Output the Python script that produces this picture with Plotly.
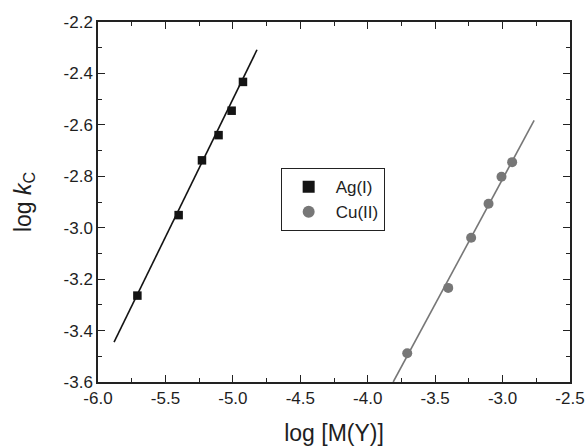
import plotly.graph_objects as go

# Data
ag_x = [-5.708, -5.402, -5.229, -5.106, -5.009, -4.925]
ag_y = [-3.264, -2.951, -2.738, -2.640, -2.545, -2.433]
cu_x = [-3.707, -3.403, -3.233, -3.104, -3.008, -2.929]
cu_y = [-3.488, -3.234, -3.039, -2.907, -2.802, -2.745]
ag_fit_x = [-5.881, -4.821]
ag_fit_y = [-3.445, -2.308]
cu_fit_x = [-3.811, -2.766]
cu_fit_y = [-3.600, -2.583]

x_ticks = [-6.0, -5.5, -5.0, -4.5, -4.0, -3.5, -3.0, -2.5]
y_ticks = [-3.6, -3.4, -3.2, -3.0, -2.8, -2.6, -2.4, -2.2]

AG = "#141414"
CU = "#777777"
AX = "#222222"
TXT = "#1e1e1e"
FONT = "Liberation Sans, Arial, sans-serif"

fig = go.Figure()
fig.add_trace(go.Scatter(x=ag_fit_x, y=ag_fit_y, mode="lines",
                         line=dict(color=AG, width=1.6), showlegend=False, hoverinfo="skip"))
fig.add_trace(go.Scatter(x=cu_fit_x, y=cu_fit_y, mode="lines",
                         line=dict(color=CU, width=1.6), showlegend=False, hoverinfo="skip"))
fig.add_trace(go.Scatter(x=ag_x, y=ag_y, mode="markers", name="Ag(I)", legendgroup="ag",
                         marker=dict(symbol="square", size=8.5, color=AG)))
fig.add_trace(go.Scatter(x=cu_x, y=cu_y, mode="markers", name="Cu(II)", legendgroup="cu",
                         marker=dict(symbol="circle", size=10, color=CU)))

axis_common = dict(
    showgrid=False, zeroline=False, showline=True, linecolor=AX, linewidth=1.5,
    mirror="ticks", ticks="inside", ticklen=7, tickwidth=1.2, tickcolor=AX,
    tickfont=dict(family=FONT, size=17, color=TXT), automargin=False,
)

fig.update_xaxes(
    range=[-6.0, -2.5], tickmode="array", tickvals=x_ticks,
    ticktext=[f"{v:.1f}" for v in x_ticks],
    minor=dict(dtick=0.25, ticks="inside", ticklen=4, tickcolor=AX, tickwidth=1.2),
    title=dict(text="log [M(Y)]", font=dict(family=FONT, size=23, color=TXT), standoff=18),
    **axis_common,
)
fig.update_yaxes(
    range=[-3.6, -2.2], tickmode="array", tickvals=y_ticks,
    ticktext=[f"{v:.1f}" for v in y_ticks],
    minor=dict(dtick=0.1, ticks="inside", ticklen=4, tickcolor=AX, tickwidth=1.2),
    title=dict(text="log <i>k</i><sub>C</sub>", font=dict(family=FONT, size=23, color=TXT), standoff=26),
    **axis_common,
)

fig.update_layout(
    width=587, height=448,
    margin=dict(l=98, r=17, t=22, b=66),
    paper_bgcolor="white", plot_bgcolor="white",
    font=dict(family=FONT),
    legend=dict(x=0.387, y=0.594, xanchor="left", yanchor="top",
                bordercolor="#222222", borderwidth=1, bgcolor="white",
                font=dict(family=FONT, size=17, color=TXT),
                tracegroupgap=0, itemsizing="constant", itemwidth=44),
)

fig.write_html("out.html", config={"displayModeBar": False},
               post_script="document.body.style.margin='0';")
